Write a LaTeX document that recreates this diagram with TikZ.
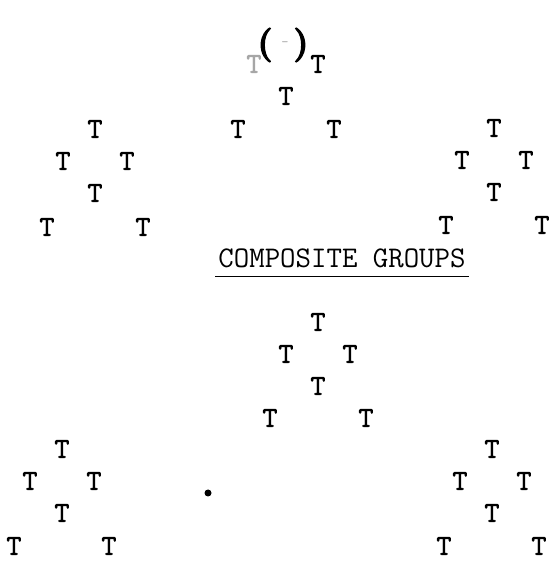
\documentclass[tikz,border=0pt]{standalone}
\usepackage{fontspec}
\usepackage{xcolor}
\usepackage{tikz}
\usetikzlibrary{positioning}
\newfontface\typeface{lmmono10-regular.otf}[FakeBold=1]
\newfontface\parenface{lmroman10-bold.otf}[FakeBold=3]

\begin{document}
\begin{tikzpicture}[
    x=1pt, y=1pt,
    node distance=32pt and 32pt, on grid,
    letter/.style={inner sep=0pt, font=\fontsize{29}{29}\typeface},
    faintletter/.style={letter, text=black!35},
    parenbox/.style={inner sep=0pt, font=\fontsize{34}{34}\parenface},
    titlebox/.style={inner sep=0pt, font=\fontsize{30}{30}\selectfont\ttfamily},
    underline/.style={line width=1.3pt}
]
    \fill[white] (0,0) rectangle (556,574);
    \useasboundingbox (0,0) rectangle (556,574);

    % top centre group
    \node[letter] (tcD) at (286,478) {T};
    \node[faintletter, above left=of tcD] (tcB) {T};
    \node[letter, above right=of tcD] (tcC) {T};
    \node[letter, below left=33pt and 48pt of tcD] (tcE) {T};
    \node[letter, below right=33pt and 48pt of tcD] (tcF) {T};
    \node[parenbox, above left=51pt and 21pt of tcD] (lpar) {(};
    \node[parenbox, above right=51pt and 15pt of tcD] (rpar) {)};
    \node[faintletter, font=\fontsize{14}{14}\selectfont\ttfamily, above left=52pt and 1pt of tcD] (mark) {-};

    % top left group
    \node[letter] (tlA) at (95,445) {T};
    \node[letter, below left=of tlA] (tlB) {T};
    \node[letter, below right=of tlA] (tlC) {T};
    \node[letter, below right=of tlB] (tlD) {T};
    \node[letter, below left=34pt and 48pt of tlD] (tlE) {T};
    \node[letter, below right=34pt and 48pt of tlD] (tlF) {T};

    % top right group
    \node[letter] (trA) at (494,446) {T};
    \node[letter, below left=of trA] (trB) {T};
    \node[letter, below right=of trA] (trC) {T};
    \node[letter, below right=of trB] (trD) {T};
    \node[letter, below left=33pt and 48pt of trD] (trE) {T};
    \node[letter, below right=33pt and 48pt of trD] (trF) {T};

    % heading
    \node[titlebox] (title) at (342,316) {COMPOSITE GROUPS};
    \draw[underline] ([xshift=-3pt, yshift=-9pt]title.south west) -- ([xshift=3pt, yshift=-9pt]title.south east);

    % bottom centre group
    \node[letter] (bcA) at (318,252) {T};
    \node[letter, below left=of bcA] (bcB) {T};
    \node[letter, below right=of bcA] (bcC) {T};
    \node[letter, below right=of bcB] (bcD) {T};
    \node[letter, below left=32pt and 48pt of bcD] (bcE) {T};
    \node[letter, below right=32pt and 48pt of bcD] (bcF) {T};

    % bottom left group
    \node[letter] (blA) at (62,125) {T};
    \node[letter, below left=of blA] (blB) {T};
    \node[letter, below right=of blA] (blC) {T};
    \node[letter, below right=of blB] (blD) {T};
    \node[letter, below left=33pt and 48pt of blD] (blE) {T};
    \node[letter, below right=33pt and 47pt of blD] (blF) {T};

    % bottom right group
    \node[letter] (brA) at (492,125) {T};
    \node[letter, below left=of brA] (brB) {T};
    \node[letter, below right=of brA] (brC) {T};
    \node[letter, below right=of brB] (brD) {T};
    \node[letter, below left=33pt and 48pt of brD] (brE) {T};
    \node[letter, below right=33pt and 47pt of brD] (brF) {T};

    % stray dot
    \fill (208,81) circle (3.5pt);
\end{tikzpicture}
\end{document}
